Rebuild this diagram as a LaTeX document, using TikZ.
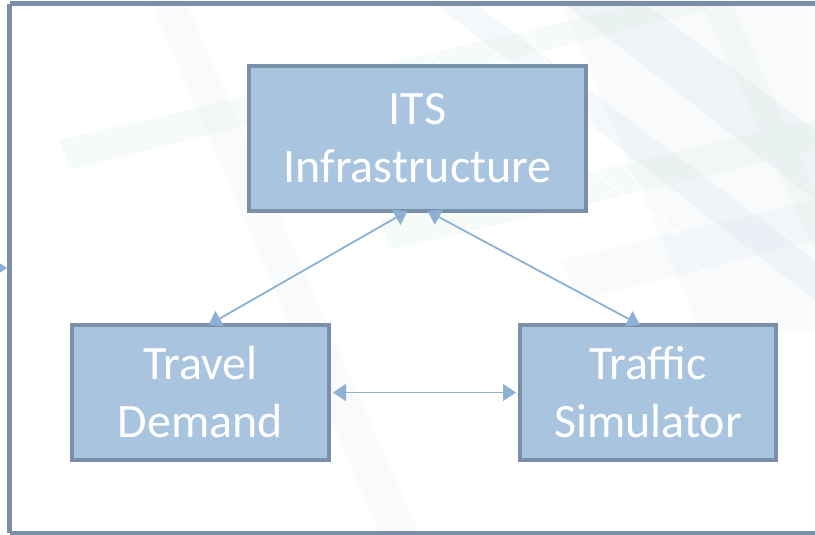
\documentclass[tikz,border=0pt]{standalone}
\usepackage{fontspec}
\setmainfont{Carlito}
\usetikzlibrary{arrows.meta}
\definecolor{boxfill}{HTML}{A8C4DE}
\definecolor{boxdraw}{HTML}{7A90A8}
\definecolor{arrowc}{HTML}{8DB1D3}
\definecolor{frame}{HTML}{7A8FA6}
\definecolor{bandblue}{HTML}{C9DBEA}
\definecolor{bandgreen}{HTML}{D8EAD6}
\tikzset{
  block/.style={draw=boxdraw, line width=4pt, fill=boxfill, text=white,
    font=\fontsize{48}{58}\selectfont, align=center, inner sep=0pt},
  link/.style={draw=arrowc, line width=1.8pt, {Triangle[width=17pt,length=13pt]}-{Triangle[width=17pt,length=13pt]}},
  band/.style={opacity=0.18}
}
\begin{document}
\begin{tikzpicture}[x=1pt,y=-1pt]
\useasboundingbox (0,0) rectangle (815,535);
\fill[white] (0,0) rectangle (815,535);
% faint background pattern
\begin{scope}
\clip (0,0) rectangle (815,535);
\fill[bandblue,band] (430,0) -- (470,0) -- (815,260) -- (815,300) -- cycle;
\fill[bandblue,band] (560,0) -- (640,0) -- (815,130) -- (815,200) -- cycle;
\fill[bandblue,opacity=0.12] (560,0) -- (815,0) -- (815,330) -- (700,330) -- cycle;
\fill[bandgreen,band] (60,140) -- (700,-10) -- (705,10) -- (70,170) -- cycle;
\fill[bandgreen,band] (380,220) -- (815,120) -- (815,150) -- (390,250) -- cycle;
\fill[bandblue,opacity=0.12] (150,0) -- (185,0) -- (420,535) -- (380,535) -- cycle;
\fill[bandgreen,band] (700,0) -- (730,0) -- (815,190) -- (815,250) -- cycle;
\draw[white,line width=2pt,opacity=0.8] (500,0) -- (815,420);
\draw[white,line width=2pt,opacity=0.8] (350,0) -- (815,330);
\fill[bandblue,opacity=0.12] (560,260) -- (815,200) -- (815,240) -- (580,300) -- cycle;
\end{scope}
% frame
\draw[frame, line width=5pt] (9.5,4) -- (830,4) (9.5,4) -- (9.5,533) (9.5,533) -- (830,533);
% incoming arrow at left edge
\coordinate (inA) at (-6,268);
\coordinate (inB) at (7,268);
\draw[draw=arrowc, line width=1.8pt, -{Triangle[width=17pt,length=13pt]}] (inA) -- (inB);
% nodes
\node[block, minimum width=337pt, minimum height=145pt] (its) at (417.5,138.5) {ITS\\Infrastructure};
\node[block, minimum width=257pt, minimum height=135pt] (td) at (200.5,392.5) {Travel\\Demand};
\node[block, minimum width=256pt, minimum height=135pt] (ts) at (648,392.5) {Traffic\\Simulator};
% connectors
\coordinate (its1) at ([xshift=-10pt]its.south);
\coordinate (its2) at ([xshift=10pt]its.south);
\coordinate (td1) at ([xshift=8pt]td.north);
\coordinate (ts1) at ([xshift=-8pt]ts.north);
\draw[link] ([yshift=2pt]its1) -- ([yshift=-2pt]td1);
\draw[link] ([yshift=2pt]its2) -- ([yshift=-2pt]ts1);
\draw[link] ([xshift=2pt]td.east) -- ([xshift=-2pt]ts.west);
\end{tikzpicture}
\end{document}
